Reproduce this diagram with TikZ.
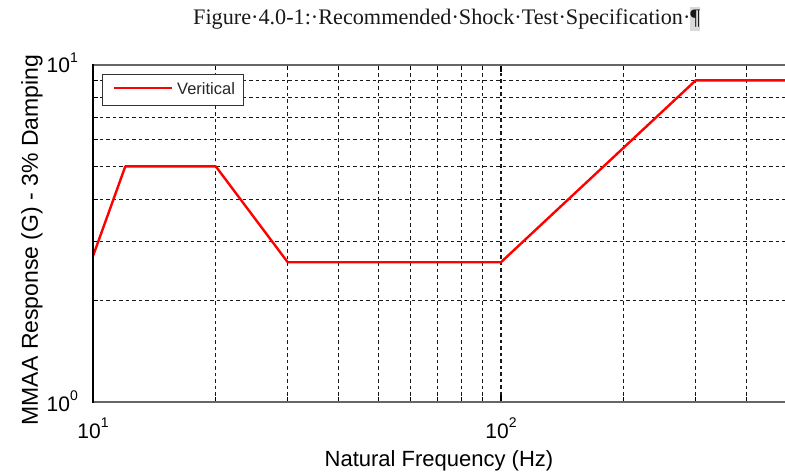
\documentclass[tikz,border=0pt]{standalone}
\usepackage{fontspec}
\setmainfont{Liberation Serif}
\newfontfamily\arial{Liberation Sans}
\begin{document}
\begin{tikzpicture}[x=1pt,y=1pt,
  gridline/.style={black!90, line width=1.1pt, dash pattern=on 3.5pt off 3pt},
  frameline/.style={black!60, line width=1.6pt},
  curve/.style={red, line width=2.4pt, line join=round},
  ticklab/.style={font=\arial\fontsize{21}{21}\selectfont, inner sep=0pt},
  axlab/.style={font=\arial\fontsize{22}{22}\selectfont, inner sep=0pt}]
\useasboundingbox (0,0) rectangle (785,475);
\fill[white] (0,0) rectangle (785,475);
% x positions: 93 + 408*(log f - 1); y positions: 73 + 337*log v
\begin{scope}
\clip (93,60) rectangle (785,415);
% vertical grid
\foreach \x in {215.8,287.7,338.6,378.2,410.5,437.8,461.5,482.3,623.8,695.7,746.6}{
  \draw[gridline] (\x,73) -- (\x,410);
  \draw[black, line width=0.9pt] (\x,73) -- (\x,78);
  \draw[black, line width=0.9pt] (\x,410) -- (\x,405);
}
% horizontal grid
\foreach \y in {174.4,233.8,275.9,308.6,335.2,357.8,377.3,394.6}{
  \draw[gridline] (93,\y) -- (785,\y);
  \draw[black, line width=0.9pt] (93,\y) -- (98,\y);
}
% major ticks
\draw[black, line width=1.3pt] (501,73) -- (501,80);
\draw[black, line width=1.3pt] (501,410) -- (501,403);
\draw[gridline] (501,80) -- (501,403);
% curve
\coordinate (p0) at (93,218.9);
\coordinate (p1) at (125.3,308.6);
\coordinate (p2) at (215.8,308.6);
\coordinate (p3) at (287.7,212.8);
\coordinate (p4) at (501,212.8);
\coordinate (p5) at (695.7,394.6);
\coordinate (p6) at (790,394.6);
\draw[curve] (p0) -- (p1) -- (p2) -- (p3) -- (p4) -- (p5) -- (p6);
\end{scope}
% frame
\draw[frameline] (93,410) -- (785,410);
\draw[frameline] (93,73) -- (785,73);
\draw[black, line width=1.3pt] (93,72.2) -- (93,410.8);
% legend
\node[draw=black!80, line width=0.9pt, fill=white, minimum width=140.6pt, minimum height=31.4pt, inner sep=0pt] (legend) at (173,385) {};
\coordinate (ls) at (114,386.7);
\coordinate (le) at (171.7,386.7);
\draw[red, line width=2.2pt] (ls) -- (le);
\node[anchor=west, inner sep=0pt, font=\arial\fontsize{16.5}{16.5}\selectfont, text=black!85] (legtxt) at (177,386.5) {Veritical};
% tick labels
\node[ticklab, anchor=base east] (y10) at (78,402) {10\raisebox{0.52em}{\fontsize{14}{14}\selectfont 1}};
\node[ticklab, anchor=base east] (y1) at (78,63.3) {10\raisebox{0.52em}{\fontsize{14}{14}\selectfont 0}};
\node[ticklab, anchor=base] (x10) at (93,37) {10\raisebox{0.52em}{\fontsize{14}{14}\selectfont 1}};
\node[ticklab, anchor=base] (x100) at (501,37) {10\raisebox{0.52em}{\fontsize{14}{14}\selectfont 2}};
% axis labels
\node[axlab, anchor=base] (xlab) at (439,9) {Natural Frequency (Hz)};
\node[axlab, font=\arial\fontsize{23}{23}\selectfont, rotate=90, anchor=base] (ylab) at (38,235) {MMAA Response (G) - 3\% Damping};
% title
\node[anchor=base west, inner sep=0pt, font=\fontsize{22.2}{22.2}\selectfont, text=black!90] (title) at (193,450) {Figure·4.0-1:·Recommended·Shock·Test·Specification·\colorbox{black!15}{\kern-3pt¶\kern-3pt}};
\end{tikzpicture}
\end{document}
